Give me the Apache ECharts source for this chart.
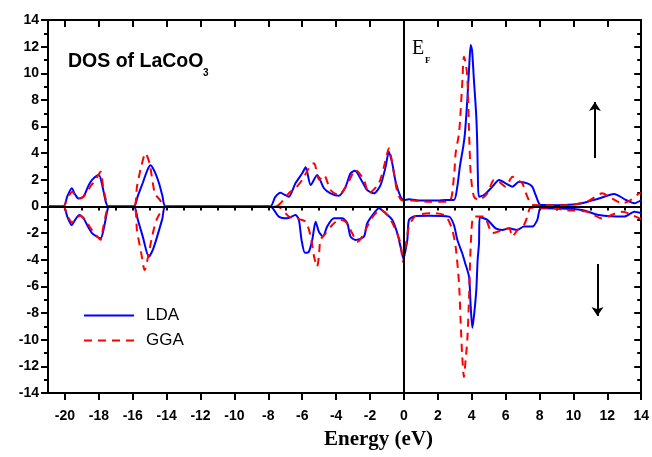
<!DOCTYPE html>
<html><head><meta charset="utf-8">
<script src="https://cdn.jsdelivr.net/npm/echarts@6/dist/echarts.min.js"></script>
<style>html,body{margin:0;padding:0;background:#fff}#c{width:652px;height:457px}</style>
</head><body><div id="c"></div>
<script>
const xMajorTicks = [-20,-18,-16,-14,-12,-10,-8,-6,-4,-2,0,2,4,6,8,10,12,14];
const xMinorTicks = [-21,-20,-19,-18,-17,-16,-15,-14,-13,-12,-11,-10,-9,-8,-7,-6,-5,-4,-3,-2,-1,0,1,2,3,4,5,6,7,8,9,10,11,12,13,14];
const seriesNames = ['LDA','GGA'];

const ldaUp = [[-21,0],[-20.1,0],[-19.85,0.8],[-19.6,1.37],[-19.4,0.9],[-19.2,0.6],[-18.9,0.75],[-18.6,1.6],[-18.4,2.0],[-18.0,2.36],[-17.8,1.6],[-17.6,0.4],[-17.45,0],
 [-15.95,0],[-15.7,0.8],[-15.4,1.8],[-15.15,2.7],[-14.95,3.1],[-14.7,2.6],[-14.45,1.74],[-14.25,0.8],[-14.05,0],
 [-7.9,0],[-7.6,0.7],[-7.28,1.04],[-7.0,0.85],[-6.79,0.74],[-6.4,1.74],[-6.0,2.49],[-5.8,2.94],[-5.5,1.61],[-5.12,2.36],[-4.72,1.37],[-4.33,0.99],[-3.84,0.81],[-3.44,1.49],[-3.15,2.49],[-2.89,2.69],[-2.46,1.86],[-2.17,1.24],[-1.77,0.99],[-1.38,1.61],[-1.08,2.99],[-0.89,4.11],[-0.69,3.24],[-0.49,1.86],[-0.2,0.74],[0,0.49],
 [0.3,0.54],[1,0.45],[2,0.45],[2.46,0.49],[2.95,0.49],[3.15,1.49],[3.3,3.0],[3.5,4.5],[3.6,5.5],[3.74,8.0],[3.85,10.5],[3.94,12.12],[4.02,11.7],[4.13,9.5],[4.27,6.74],[4.33,4.5],[4.36,2.49],[4.43,0.74],
 [4.72,0.86],[5.22,1.49],[5.61,1.99],[6.0,1.74],[6.4,1.49],[6.79,1.86],[7.28,1.74],[7.57,1.49],[7.77,0.86],[8.07,0.11],[9,0.1],[10,0.15],[10.5,0.24],[11.5,0.6],[12.4,0.94],[13.1,0.49],[13.6,0.24],[14,0.49]];

const ldaDown = [[-21,0],[-20.1,0],[-19.85,-0.8],[-19.6,-1.39],[-19.4,-1.0],[-19.15,-0.64],[-18.9,-0.9],[-18.6,-1.6],[-18.4,-2.0],[-17.9,-2.39],[-17.7,-1.6],[-17.5,-0.3],[-17.4,0],
 [-15.95,0],[-15.7,-1.0],[-15.4,-2.3],[-15.05,-3.77],[-14.8,-3.2],[-14.5,-2.0],[-14.25,-0.9],[-14.05,0],
 [-7.9,0],[-7.38,-0.76],[-6.89,-0.89],[-6.4,-0.64],[-6.2,-1.0],[-6.04,-2.51],[-5.84,-3.47],[-5.61,-3.39],[-5.41,-2.51],[-5.21,-1.14],[-5.02,-1.89],[-4.78,-2.26],[-4.53,-1.51],[-4.13,-0.89],[-3.64,-0.89],[-3.34,-1.26],[-3.15,-2.26],[-2.85,-2.51],[-2.36,-2.26],[-2.17,-1.26],[-1.77,-0.51],[-1.48,-0.14],[-1.08,-0.51],[-0.69,-1.0],[-0.39,-2.01],[-0.2,-3.02],[-0.04,-3.89],[0.2,-2.5],[0.3,-1.0],[0.69,-0.71],[1.5,-0.7],[2.66,-0.76],[2.95,-1.39],[3.15,-2.5],[3.44,-3.51],[3.6,-4.2],[3.84,-5.27],[3.94,-7.52],[4.04,-9.1],[4.15,-8.0],[4.27,-6.27],[4.35,-4.0],[4.43,-2.76],[4.47,-0.8],
 [4.92,-1.0],[5.41,-1.64],[5.81,-1.76],[6.2,-1.64],[6.69,-1.76],[7.08,-1.51],[7.57,-1.51],[7.87,-1.0],[8.07,-0.14],[9,-0.15],[10.5,-0.26],[11.5,-0.64],[13.0,-0.76],[13.6,-0.39],[14,-0.5]];

const ggaUp = [[-21,0],[-20.1,0],[-19.85,0.6],[-19.57,1.1],[-19.35,0.8],[-19.1,0.6],[-18.8,0.9],[-18.5,1.5],[-18.2,2.0],[-17.9,2.6],[-17.75,1.5],[-17.55,0.3],[-17.45,0],
 [-15.95,0],[-15.75,1.5],[-15.5,3.0],[-15.25,4.0],[-15.0,3.2],[-14.7,1.0],[-14.4,0.5],[-14.1,0],
 [-7.6,0],[-7.28,0.24],[-6.79,1.0],[-6.4,1.37],[-6.0,2.0],[-5.5,3.12],[-5.3,3.24],[-5.0,2.0],[-4.72,2.36],[-4.33,1.24],[-3.84,0.86],[-3.36,1.61],[-2.85,2.74],[-2.36,2.0],[-2.07,0.99],[-1.48,1.74],[-1.08,3.49],[-0.89,4.37],[-0.59,2.49],[-0.39,1.11],[-0.1,0.45],
 [0.5,0.45],[1.5,0.35],[2.66,0.36],[2.95,2.24],[3.05,3.99],[3.25,5.5],[3.35,7.24],[3.45,9.5],[3.54,11.25],[3.64,10.8],[3.74,9.74],[3.84,5.74],[3.94,2.49],[4.13,0.74],[4.43,0.49],
 [4.92,0.99],[5.31,1.99],[5.61,1.86],[6.0,1.49],[6.4,2.24],[6.7,2.0],[6.98,1.74],[7.28,0.74],[7.57,0.11],[8.5,0.1],[9.5,0.1],[10.8,0.36],[11.7,0.99],[12.1,0.74],[12.9,0.24],[13.4,0.5],[13.9,0.99],[14,1.0]];

const ggaDown = [[-21,0],[-20.1,0],[-19.85,-0.7],[-19.57,-1.2],[-19.35,-0.9],[-19.1,-0.7],[-18.8,-1.0],[-18.5,-1.6],[-18.2,-2.1],[-17.9,-2.5],[-17.75,-1.6],[-17.55,-0.4],[-17.45,0],
 [-15.95,0],[-15.75,-1.8],[-15.5,-3.5],[-15.3,-4.77],[-15.1,-3.8],[-14.85,-2.2],[-14.6,-1.0],[-14.3,-0.3],[-14.1,0],
 [-7.6,0],[-7.28,-0.1],[-6.79,-0.76],[-6.4,-0.89],[-5.8,-1.14],[-5.5,-2.26],[-5.3,-3.77],[-5.12,-4.52],[-5.02,-3.77],[-4.92,-2.51],[-4.62,-2.01],[-4.23,-1.39],[-3.84,-1.0],[-3.44,-1.14],[-3.05,-2.01],[-2.76,-2.64],[-2.46,-2.26],[-2.17,-1.51],[-1.77,-0.64],[-1.38,-0.26],[-0.89,-0.76],[-0.49,-1.76],[-0.2,-2.76],[-0.06,-4.14],[0.1,-3.0],[0.3,-1.5],
 [0.69,-0.7],[1.67,-0.5],[2.46,-0.7],[2.85,-1.76],[3.05,-3.0],[3.25,-5.77],[3.35,-8.77],[3.44,-11.27],[3.54,-12.8],[3.64,-11.5],[3.74,-10.0],[3.84,-7.0],[3.94,-3.0],[4.13,-0.76],[4.72,-0.76],
 [5.22,-2.0],[5.61,-1.86],[6.2,-1.64],[6.4,-2.26],[6.7,-1.76],[7.08,-1.39],[7.28,-0.76],[7.48,-0.1],[8.5,-0.1],[9.5,-0.26],[10.8,-0.4],[11.7,-0.9],[12.5,-0.5],[12.9,-0.4],[13.9,-0.89],[14,-0.9]];

const upArrow = [[11.27,3.64],[11.27,7.85]];
const downArrow = [[11.42,-4.32],[11.42,-8.22]];

const chart = echarts.init(document.getElementById('c'), null, {renderer:'canvas'});
const black = '#000';
const axLine = {show:true, onZero:false, lineStyle:{color:black, width:2}};
const tickStyle = {color:black, width:2};
const lblFont = {fontSize:14, fontWeight:'bold', color:black, fontFamily:'Liberation Sans'};

function xAx(pos, ticks, len, inside, labels) {
  return {type:'value', min:-21, max:14, position:pos, axisLine: labels!==null ? axLine : {show:false},
    axisTick:{show:true, customValues:ticks, length:len, inside:inside, lineStyle:tickStyle},
    axisLabel: labels ? Object.assign({show:true, customValues:ticks, margin:16}, lblFont) : {show:false},
    splitLine:{show:false}};
}
const blue = '#0000ff', red = '#ff0000';
const lineOpts = (name, data, color, dash) => ({
  name, type:'line', data, symbol:'none', smooth:0.25, z:3,
  lineStyle:{color, width:2, type: dash ? [8,6] : 'solid'}, itemStyle:{color}
});

chart.setOption({
  animation:false,
  grid:{left:48, right:9, top:20, bottom:64},
  xAxis:[
    xAx('bottom', xMajorTicks, 7, false, true),
    xAx('bottom', xMinorTicks, 4, false, null),
    xAx('top', xMajorTicks, 7, true, false),
    xAx('top', xMinorTicks, 4, true, null)
  ],
  yAxis:[
    {type:'value', min:-14, max:14, interval:2, position:'left', axisLine:axLine,
     axisTick:{show:true, length:7, lineStyle:tickStyle}, minorTick:{show:true, splitNumber:2, length:4, lineStyle:tickStyle},
     axisLabel:Object.assign({margin:9}, lblFont), splitLine:{show:false}, minorSplitLine:{show:false}},
    {type:'value', min:-14, max:14, interval:2, position:'right', axisLine:axLine,
     axisTick:{show:true, inside:true, length:7, lineStyle:tickStyle}, minorTick:{show:true, splitNumber:2, length:4, lineStyle:tickStyle},
     axisLabel:{show:false}, splitLine:{show:false}, minorSplitLine:{show:false}}
  ],
  legend:{data:seriesNames, orient:'vertical', left:78, top:302, itemWidth:50, itemHeight:14, itemGap:8,
    itemStyle:{opacity:0},
    textStyle:{fontSize:17, color:black, fontFamily:'Liberation Sans', padding:[0,0,0,7]}},
  graphic:[
    {type:'text', left:68, top:52, style:{text:'DOS of LaCoO', font:'bold 19.5px "Liberation Sans"', fill:black}},
    {type:'text', left:203, top:68, style:{text:'3', font:'bold 10px "Liberation Sans"', fill:black}},
    {type:'text', left:412, top:39, style:{text:'E', font:'20px "Liberation Serif"', fill:black}},
    {type:'text', left:425, top:56, style:{text:'F', font:'bold 9px "Liberation Serif"', fill:black}},
    {type:'text', left:324, top:429, style:{text:'Energy (eV)', font:'bold 21px "Liberation Serif"', fill:black}}
  ],
  series:[
    {type:'line', data:[], symbol:'none', z:1, silent:true,
     markLine:{silent:true, symbol:['none','none'], label:{show:false}, lineStyle:{color:black, width:2, type:'solid'},
       data:[{yAxis:0},{xAxis:0}]}},
    {type:'line', data:[], symbol:'none', z:4, silent:true,
     markLine:{silent:true, symbol:['none','arrow'], symbolSize:9, label:{show:false}, lineStyle:{color:black, width:2, type:'solid'},
       data:[[{coord:upArrow[0]},{coord:upArrow[1]}],[{coord:downArrow[0]},{coord:downArrow[1]}]]}},
    lineOpts('LDA', ldaUp, blue, false),
    lineOpts('LDA', ldaDown, blue, false),
    lineOpts('GGA', ggaUp, red, true),
    lineOpts('GGA', ggaDown, red, true)
  ]
});
</script></body></html>
